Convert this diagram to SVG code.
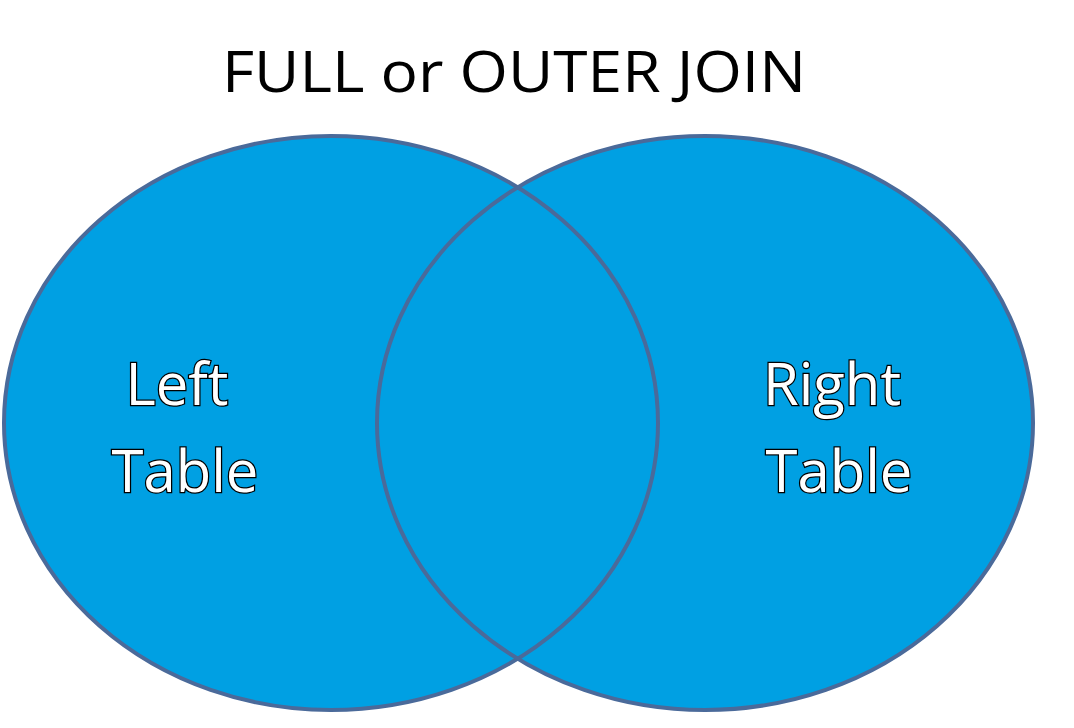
<svg xmlns="http://www.w3.org/2000/svg" width="1074" height="728" viewBox="0 0 1074 728">
<style>
.c{fill:#00A0E3}
.o{fill:none;stroke:#4A6A9A;stroke-width:4}
.t{font-family:"Open Sans","Liberation Sans",sans-serif;font-size:58px;fill:#fff;stroke:#000;stroke-width:2.5;paint-order:stroke;text-anchor:middle}
.h{font-family:"Open Sans","Liberation Sans",sans-serif;font-size:56px;fill:#000;text-anchor:middle}
</style>
<rect width="1074" height="728" fill="#fff"/>
<text class="h" x="514" y="92" textLength="584" lengthAdjust="spacingAndGlyphs">FULL or OUTER JOIN</text>
<g id="left"><ellipse class="c" cx="331" cy="423" rx="327" ry="287"/></g>
<g id="right"><ellipse class="c" cx="705" cy="423" rx="328" ry="287"/></g>
<g id="outlines">
<ellipse class="o" cx="331" cy="423" rx="327" ry="287"/>
<ellipse class="o" cx="705" cy="423" rx="328" ry="287"/>
</g>
<g id="labels">
<text class="t" x="177" y="405">Left</text>
<text class="t" x="185" y="492">Table</text>
<text class="t" x="832" y="405">Right</text>
<text class="t" x="839" y="492">Table</text>
</g>
</svg>
